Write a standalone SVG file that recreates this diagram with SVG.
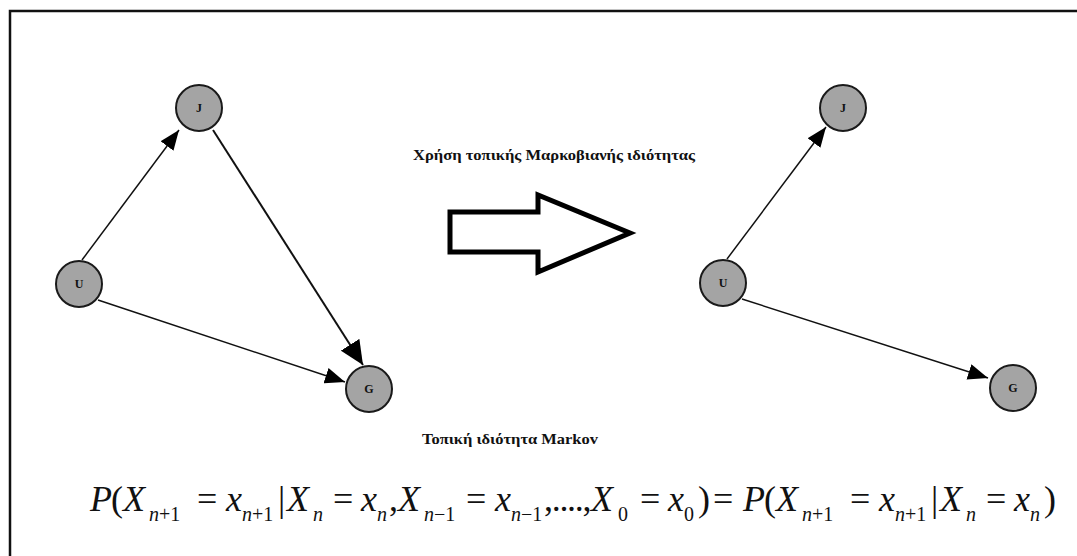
<svg xmlns="http://www.w3.org/2000/svg" width="1077" height="556" viewBox="0 0 1077 556">
<style>
.node circle{fill:#a4a4a4;stroke:#1a1a1a;stroke-width:2}
.node text{font-family:"Liberation Serif",serif;font-weight:bold;font-size:12px;fill:#111;text-anchor:middle;dominant-baseline:central}
.edge{stroke:#111;stroke-width:1.5;fill:none}
.edge.thick{stroke-width:2}
.title{font-family:"Liberation Serif",serif;font-weight:bold;font-size:14.5px;fill:#111}
.f{font-family:"Liberation Serif",serif;font-size:36px;fill:#111}
.i{font-style:italic}
.s{font-size:20px}
</style>
<defs>
<marker id="ah" markerUnits="userSpaceOnUse" markerWidth="20" markerHeight="16" refX="20" refY="8" orient="auto">
<path d="M0,0 L20,8 L0,16 z" fill="#000"/>
</marker>
<marker id="ahL" markerUnits="userSpaceOnUse" markerWidth="24" markerHeight="22" refX="24" refY="11" orient="auto">
<path d="M0,0 L24,11 L0,22 z" fill="#000"/>
</marker>
</defs>
<rect width="1077" height="556" fill="#fff"/>
<g id="frame" fill="none" stroke="#111" stroke-width="2.5">
<path d="M10,556 L10,11 L1077,11"/>
</g>
<g id="connectors">
<line class="edge" x1="82" y1="260" x2="179" y2="130" marker-end="url(#ah)"/>
<line class="edge thick" x1="213" y1="130" x2="363" y2="365" marker-end="url(#ahL)"/>
<line class="edge" x1="98" y1="300" x2="345" y2="382" marker-end="url(#ah)"/>
<line class="edge" x1="727" y1="259" x2="826" y2="127" marker-end="url(#ah)"/>
<line class="edge" x1="742" y1="299" x2="988" y2="378" marker-end="url(#ah)"/>
</g>
<g id="nodeJ1" class="node"><circle cx="199" cy="108" r="23"/><text x="199" y="108">J</text></g>
<g id="nodeU1" class="node"><circle cx="79" cy="284" r="23"/><text x="79" y="284">U</text></g>
<g id="nodeG1" class="node"><circle cx="369" cy="389" r="23"/><text x="369" y="389">G</text></g>
<g id="nodeJ2" class="node"><circle cx="843" cy="108" r="23"/><text x="843" y="108">J</text></g>
<g id="nodeU2" class="node"><circle cx="723" cy="283" r="23"/><text x="723" y="283">U</text></g>
<g id="nodeG2" class="node"><circle cx="1013" cy="388" r="23"/><text x="1013" y="388">G</text></g>
<g id="bigArrow">
<polygon points="450,212 538,212 538,195 630,233 538,272 538,252 450,252" fill="#fff" stroke="#000" stroke-width="5" stroke-linejoin="miter"/>
</g>
<text class="title" x="413" y="160" textLength="282" lengthAdjust="spacingAndGlyphs">Χρήση τοπικής Μαρκοβιανής ιδιότητας</text>
<text class="title" x="422" y="444" textLength="176" lengthAdjust="spacingAndGlyphs">Τοπική ιδιότητα Markov</text>
<g id="formula">
<text class="f">
<tspan class="i" x="90" y="511">P</tspan><tspan x="111" y="511">(</tspan><tspan class="i" x="123" y="511">X</tspan><tspan class="s" x="149" y="521"><tspan class="i">n</tspan>+1</tspan><tspan x="197" y="511">=</tspan><tspan class="i" x="226" y="511">x</tspan><tspan class="s" x="242" y="521"><tspan class="i">n</tspan>+1</tspan><tspan x="278" y="511">|</tspan><tspan class="i" x="287" y="511">X</tspan><tspan class="s i" x="313" y="521">n</tspan><tspan x="333" y="511">=</tspan><tspan class="i" x="361" y="511">x</tspan><tspan class="s i" x="377" y="521">n</tspan><tspan x="389" y="511">,</tspan><tspan class="i" x="398" y="511">X</tspan><tspan class="s" x="424" y="521"><tspan class="i">n</tspan>−1</tspan><tspan x="466" y="511">=</tspan><tspan class="i" x="495" y="511">x</tspan><tspan class="s" x="511" y="521"><tspan class="i">n</tspan>−1</tspan><tspan x="544" y="511" letter-spacing="-1.3">,....,</tspan><tspan class="i" x="591" y="511">X</tspan><tspan class="s" x="618" y="521">0</tspan><tspan x="640" y="511">=</tspan><tspan class="i" x="668" y="511">x</tspan><tspan class="s" x="684" y="521">0</tspan><tspan x="698" y="511">)</tspan><tspan x="713" y="511">=</tspan><tspan class="i" x="743" y="511">P</tspan><tspan x="764" y="511">(</tspan><tspan class="i" x="776" y="511">X</tspan><tspan class="s" x="802" y="521"><tspan class="i">n</tspan>+1</tspan><tspan x="850" y="511">=</tspan><tspan class="i" x="879" y="511">x</tspan><tspan class="s" x="895" y="521"><tspan class="i">n</tspan>+1</tspan><tspan x="931" y="511">|</tspan><tspan class="i" x="940" y="511">X</tspan><tspan class="s i" x="966" y="521">n</tspan><tspan x="986" y="511">=</tspan><tspan class="i" x="1014" y="511">x</tspan><tspan class="s i" x="1030" y="521">n</tspan><tspan x="1044" y="511">)</tspan>
</text>
</g>
</svg>
